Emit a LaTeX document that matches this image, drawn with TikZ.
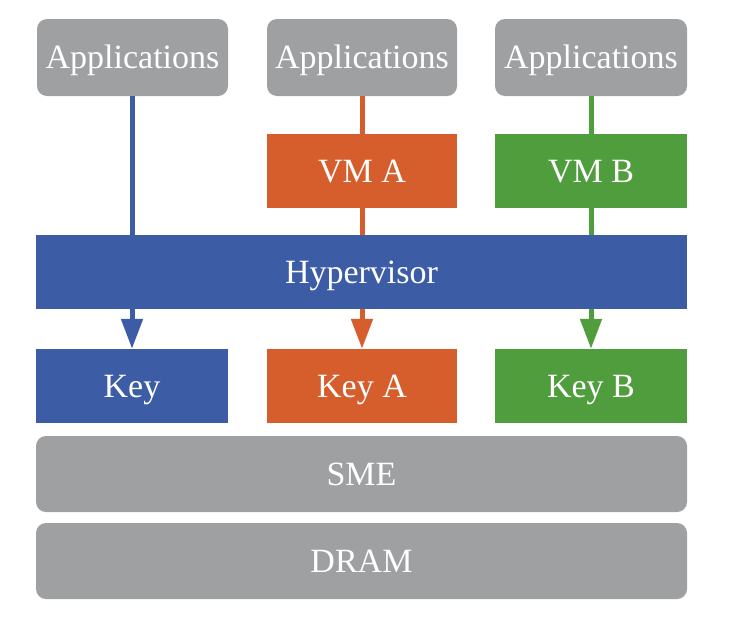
\documentclass[tikz,border=0pt]{standalone}
\usepackage{fontspec}
\setmainfont{Liberation Serif}
\usetikzlibrary{arrows.meta}
\definecolor{boxgray}{HTML}{9FA0A2}
\definecolor{hvblue}{HTML}{3C5DA6}
\definecolor{vmorange}{HTML}{D65E2C}
\definecolor{vmgreen}{HTML}{4F9D3C}
\tikzset{
  base/.style={inner sep=0pt, text=white, font=\fontsize{34}{40}\selectfont, minimum height=76pt, text height=22.5pt, text depth=0pt},
  graybox/.style={base, fill=boxgray, rounded corners=10pt},
  colbox/.style={base, minimum height=74pt},
  conn/.style={line width=5pt},
  arr/.style={line width=5pt, -{Triangle[width=21pt,length=30pt]}},
}
\begin{document}
\begin{tikzpicture}[x=1pt,y=-1pt]
\useasboundingbox[fill=white] (0,0) rectangle (730,622);
% top applications
\node[graybox, minimum width=191pt, minimum height=77pt] (app1) at (132.5,57.5) {Applications};
\node[graybox, minimum width=190pt, minimum height=77pt] (app2) at (362,57.5) {Applications};
\node[graybox, minimum width=192pt, minimum height=77pt] (app3) at (591,57.5) {Applications};
% VMs
\node[colbox, fill=vmorange, minimum width=190pt] (vma) at (362,171) {VM A};
\node[colbox, fill=vmgreen, minimum width=192pt] (vmb) at (591,171) {VM B};
% Hypervisor
\node[colbox, fill=hvblue, minimum width=651pt] (hyp) at (361.5,272) {Hypervisor};
% Keys
\node[colbox, fill=hvblue, minimum width=192pt] (key) at (132,386) {Key};
\node[colbox, fill=vmorange, minimum width=190pt] (keya) at (362,386) {Key A};
\node[colbox, fill=vmgreen, minimum width=192pt] (keyb) at (591,386) {Key B};
% SME and DRAM
\node[graybox, minimum width=651pt] (sme) at (361.5,474) {SME};
\node[graybox, minimum width=651pt] (dram) at (361.5,561) {DRAM};
% connectors
\draw[conn, hvblue] (app1.south) -- (app1.south |- hyp.north);
\draw[conn, vmorange] (app2.south) -- (vma.north);
\draw[conn, vmorange] (vma.south) -- (vma.south |- hyp.north);
\draw[conn, vmgreen] (app3.south) -- (vmb.north);
\draw[conn, vmgreen] (vmb.south) -- (vmb.south |- hyp.north);
\draw[arr, hvblue] (key.north |- hyp.south) -- (key.north);
\draw[arr, vmorange] (keya.north |- hyp.south) -- (keya.north);
\draw[arr, vmgreen] (keyb.north |- hyp.south) -- (keyb.north);
\end{tikzpicture}
\end{document}
